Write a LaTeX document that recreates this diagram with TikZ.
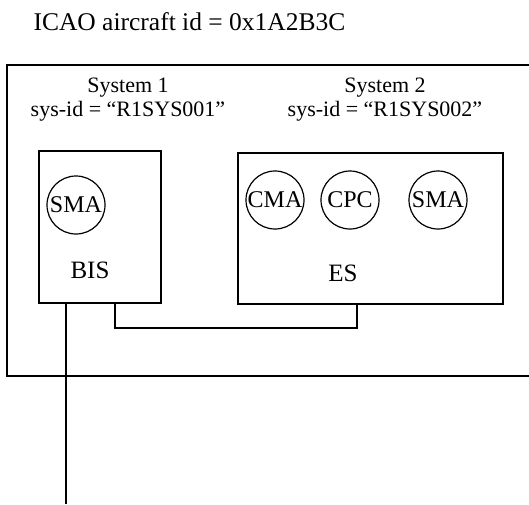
\documentclass[tikz,border=0pt]{standalone}
\usepackage{fontspec}
\setmainfont{Liberation Serif}
\usetikzlibrary{positioning}

\begin{document}
\begin{tikzpicture}[
  x=1pt, y=-1pt,
  box/.style={draw, line width=1.6pt, inner sep=0pt},
  agent/.style={draw, circle, line width=1.2pt, minimum size=58pt, inner sep=0pt, font=\fontsize{24}{26}\selectfont},
  syslabel/.style={font=\fontsize{22}{24}\selectfont, align=center},
  boxname/.style={font=\fontsize{25}{28}\selectfont},
  wire/.style={line width=1.6pt}
]
\useasboundingbox (0,0) rectangle (529,504);
\clip (0,0) rectangle (529,504);

\node[font=\fontsize{25.5}{28}\selectfont, anchor=west] (icao) at (30,22) {ICAO aircraft id = 0x1A2B3C};

% aircraft frame, runs off the right edge
\draw[wire] (7,65) rectangle (545,376);

\node[syslabel] (sys1) at (128,100) {System 1\\sys-id = “R1SYS001”};
\node[syslabel] (sys2) at (385,100) {System 2\\sys-id = “R1SYS002”};

\node[box, minimum width=122pt, minimum height=152pt] (bis) at (100,227) {};
\node[box, minimum width=265pt, minimum height=151pt] (es) at (370.5,228.5) {};

\node[boxname] (bisname) at (90,270) {BIS};
\node[boxname] (esname) at (343,273) {ES};

\node[agent] (sma1) at (76,205) {SMA};
\node[agent] (cma) at (275,200) {CMA};
\node[agent] (cpc) at (350,200) {CPC};
\node[agent] (sma2) at (438,200) {SMA};

\coordinate (ground) at (66,504);

\draw[wire] ([xshift=15pt]bis.south) -- ++(0,24) -| ([xshift=-13.5pt]es.south);
\draw[wire] ([xshift=-34pt]bis.south) -- (ground);
\end{tikzpicture}
\end{document}
